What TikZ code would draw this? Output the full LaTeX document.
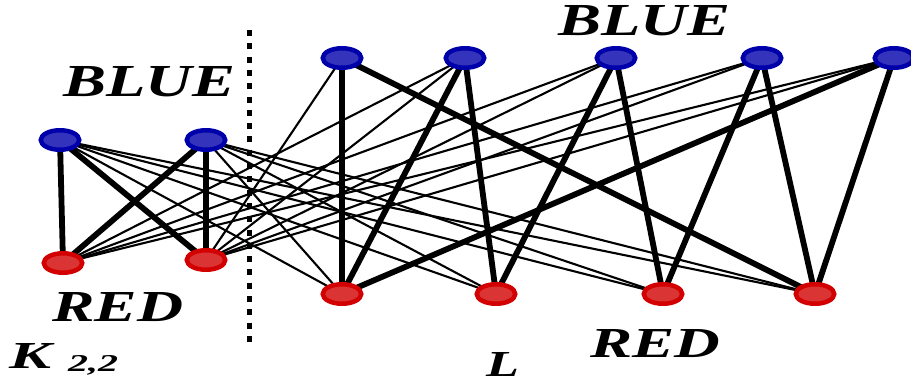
\documentclass[tikz,border=0pt]{standalone}
\usepackage{graphicx}
\usepackage{fontspec}
\setmainfont{Liberation Serif}
\usetikzlibrary{shapes.geometric,backgrounds}
\definecolor{bluedge}{RGB}{0,0,170}
\definecolor{bluefill}{RGB}{51,51,187}
\definecolor{rededge}{RGB}{210,0,0}
\definecolor{redfill}{RGB}{218,52,52}
\newcommand{\lablbox}[3]{\resizebox{#1}{#2}{\bfseries\itshape #3}}
\tikzset{
  bnode/.style={ellipse,draw=bluedge,fill=bluefill,line width=4.5pt,minimum width=38.5pt,minimum height=19.5pt,inner sep=0pt},
  rnode/.style={ellipse,draw=rededge,fill=redfill,line width=4.5pt,minimum width=38.5pt,minimum height=19.5pt,inner sep=0pt},
  thickedge/.style={line width=5.8pt},
  thinedge/.style={line width=2.1pt},
  lbl/.style={inner sep=0pt,outer sep=0pt,anchor=base west},
  dotline/.style={line width=5pt,dash pattern=on 6pt off 7.3pt},
}
\begin{document}
\begin{tikzpicture}[x=1pt,y=-1pt]
\useasboundingbox (0,0) rectangle (911,383);
% K_{2,2}
\node[bnode] (a1) at (60,140) {};
\node[bnode] (a2) at (206,140) {};
\node[rnode] (b1) at (63,263) {};
\node[rnode] (b2) at (206,260) {};
% L
\node[bnode] (t1) at (342,58) {};
\node[bnode] (t2) at (465,58) {};
\node[bnode] (t3) at (616,58) {};
\node[bnode] (t4) at (762,58) {};
\node[bnode] (t5) at (894,58) {};
\node[rnode] (r1) at (342,294) {};
\node[rnode] (r2) at (496,294) {};
\node[rnode] (r3) at (663,294) {};
\node[rnode] (r4) at (815,294) {};
\begin{scope}[on background layer]
  \foreach \u/\v in {a1/b1,a1/b2,a2/b1,a2/b2,t1/r1,t1/r4,t2/r1,t2/r2,t3/r2,t3/r3,t4/r3,t4/r4,t5/r4,t5/r1}
    \draw[thickedge] (\u.center) -- (\v.center);
  \foreach \u/\v in {a1/r1,a1/r2,a1/r3,a1/r4,a2/r1,a2/r2,a2/r3,a2/r4,b1/t2,b1/t3,b1/t4,b1/t5,b2/t1,b2/t2,b2/t3,b2/t4,b2/t5}
    \draw[thinedge] (\u.center) -- (\v.center);
\end{scope}
% separator
\coordinate (d1) at (249,30);
\coordinate (d2) at (249,347);
\draw[dotline] (d1) -- (d2);
% labels
\node[lbl] (blueL) at (63,96) {\lablbox{172pt}{30pt}{BLUE}};
\node[lbl] (blueT) at (558,35) {\lablbox{172pt}{30pt}{BLUE}};
\node[lbl] (redL) at (52,321) {\lablbox{131pt}{29pt}{RED}};
\node[lbl] (redR) at (590,357) {\lablbox{130pt}{28pt}{RED}};
\node[lbl] (K) at (10,368) {\lablbox{42pt}{25pt}{K}};
\node[lbl] (sub) at (68,371) {\lablbox{50pt}{16pt}{2,2}};
\node[lbl] (L) at (486,376) {\lablbox{33pt}{24pt}{L}};
\end{tikzpicture}
\end{document}
